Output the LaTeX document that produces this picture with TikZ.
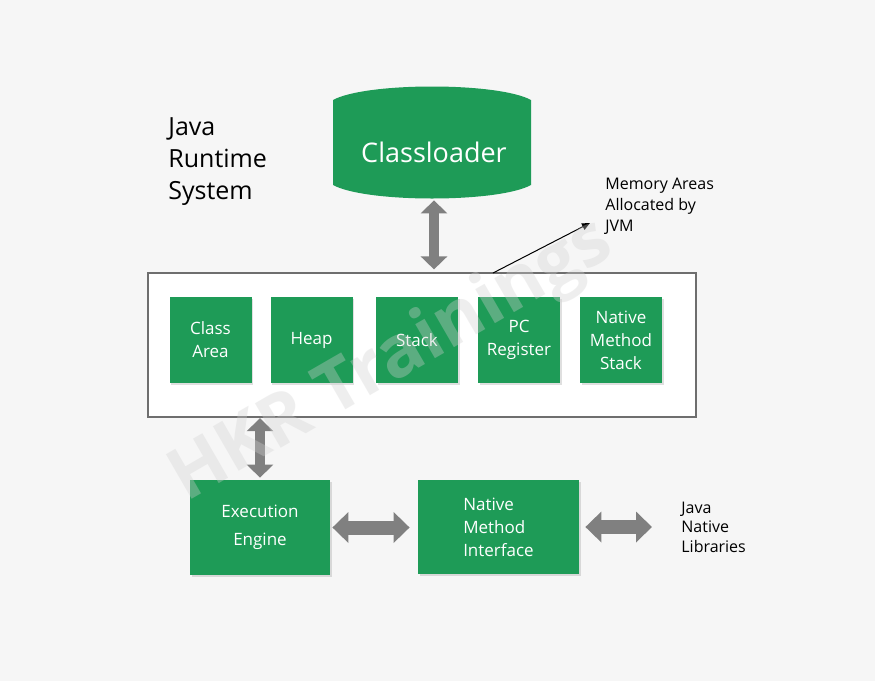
\documentclass[tikz,border=0pt]{standalone}
\usepackage{fontspec}
\setmainfont{Open Sans}
\usepackage{tikz}
\usetikzlibrary{arrows.meta}
\usetikzlibrary{calc}
\usetikzlibrary{shadows}
\definecolor{jvmgreen}{RGB}{30,155,87}
\definecolor{arrowgray}{RGB}{128,128,128}
\definecolor{bggray}{RGB}{246,246,246}
\definecolor{framegray}{RGB}{110,110,110}
\newcommand{\drawvarrow}{\draw[arrowgray, line width=5pt, {Triangle[width=13pt,length=6.5pt]}-{Triangle[width=13pt,length=6.5pt]}]}
\newcommand{\drawharrow}{\draw[arrowgray, line width=7pt, {Triangle[width=15pt,length=8pt]}-{Triangle[width=15pt,length=8pt]}]}
\tikzset{
    greenbox/.style={fill=jvmgreen, text=white, inner sep=0pt, align=center,
        drop shadow={opacity=0.25, shadow xshift=0.8pt, shadow yshift=-0.8pt}},
    membox/.style={greenbox, minimum width=41pt, minimum height=43pt,
        font=\fontsize{8.5}{11.5}\selectfont},
    plaintext/.style={inner sep=0pt, align=left},
}

\begin{document}
\begin{tikzpicture}[x=0.5pt, y=-0.5pt]
    % Draw background
    \useasboundingbox (0,0) rectangle (875,681);
    \fill[bggray] (0,0) rectangle (875,681);

    % Draw classloader drum
    \fill[jvmgreen] (333,100) .. controls (366,82) and (498,82) .. (531,100)
        -- (531,185) .. controls (498,203) and (366,203) .. (333,185) -- cycle;
    \node[inner sep=0pt, minimum width=99pt, minimum height=46pt, text=white,
        font=\fontsize{13.5}{16}\selectfont] (classloader) at (434,152) {Classloader};

    % Draw memory areas
    \node[draw=framegray, line width=0.6pt, fill=white, minimum width=274pt,
        minimum height=72pt, inner sep=0pt] (memarea) at (422,345) {};
    \node[membox] (classarea) at (210.5,340) {Class\\Area};
    \node[membox] (heap) at (311.5,340) {Heap};
    \node[membox] (stack) at (417,340) {Stack};
    \node[membox] (pcreg) at (519,340) {PC\\Register};
    \node[membox] (nmstack) at (621,340) {Native\\Method\\Stack};

    % Draw engine and interface
    \node[greenbox, minimum width=70pt, minimum height=47.5pt,
        font=\fontsize{8.5}{14}\selectfont] (exeng) at (260,527.5) {Execution\\Engine};
    \node[greenbox, align=left, minimum width=80.5pt, minimum height=47pt,
        font=\fontsize{8.5}{11.5}\selectfont] (nmi) at (498.5,527) {Native\\Method\\Interface};

    % Draw labels
    \node[plaintext, anchor=north west, font=\fontsize{12.5}{16}\selectfont]
        (jrs) at (168,117) {Java\\Runtime\\System};
    \node[plaintext, anchor=north west, font=\fontsize{8}{10.5}\selectfont]
        (memlabel) at (605,178) {Memory Areas\\Allocated by\\JVM};
    \node[plaintext, anchor=west, font=\fontsize{8}{9.8}\selectfont]
        (jnl) at (681,527) {Java\\Native\\Libraries};

    % Draw connectors
    \drawvarrow[shorten <=1pt, shorten >=1.5pt] (classloader.south) -- (classloader.south |- memarea.north);
    \drawvarrow[shorten <=0.3pt, shorten >=1pt] (memarea.south -| exeng.north) -- (exeng.north);
    \drawharrow[shorten <=1pt, shorten >=4pt] (exeng.east) -- (nmi.west |- exeng.east);
    \drawharrow[shorten <=3pt, shorten >=14.5pt] (nmi.east |- jnl.west) -- (jnl.west);

    \coordinate (memfoot) at (493,273);
    \coordinate (memhead) at (590,223);
    \draw[line width=0.5pt, -{Triangle[length=4pt,width=3.5pt]}] (memfoot) -- (memhead);

    % Draw watermark
    \node[text=black!18, text opacity=0.35, rotate=30,
        font=\bfseries\fontsize{36}{36}\selectfont] (mark) at (392,362) {HKR Trainings};
\end{tikzpicture}
\end{document}
